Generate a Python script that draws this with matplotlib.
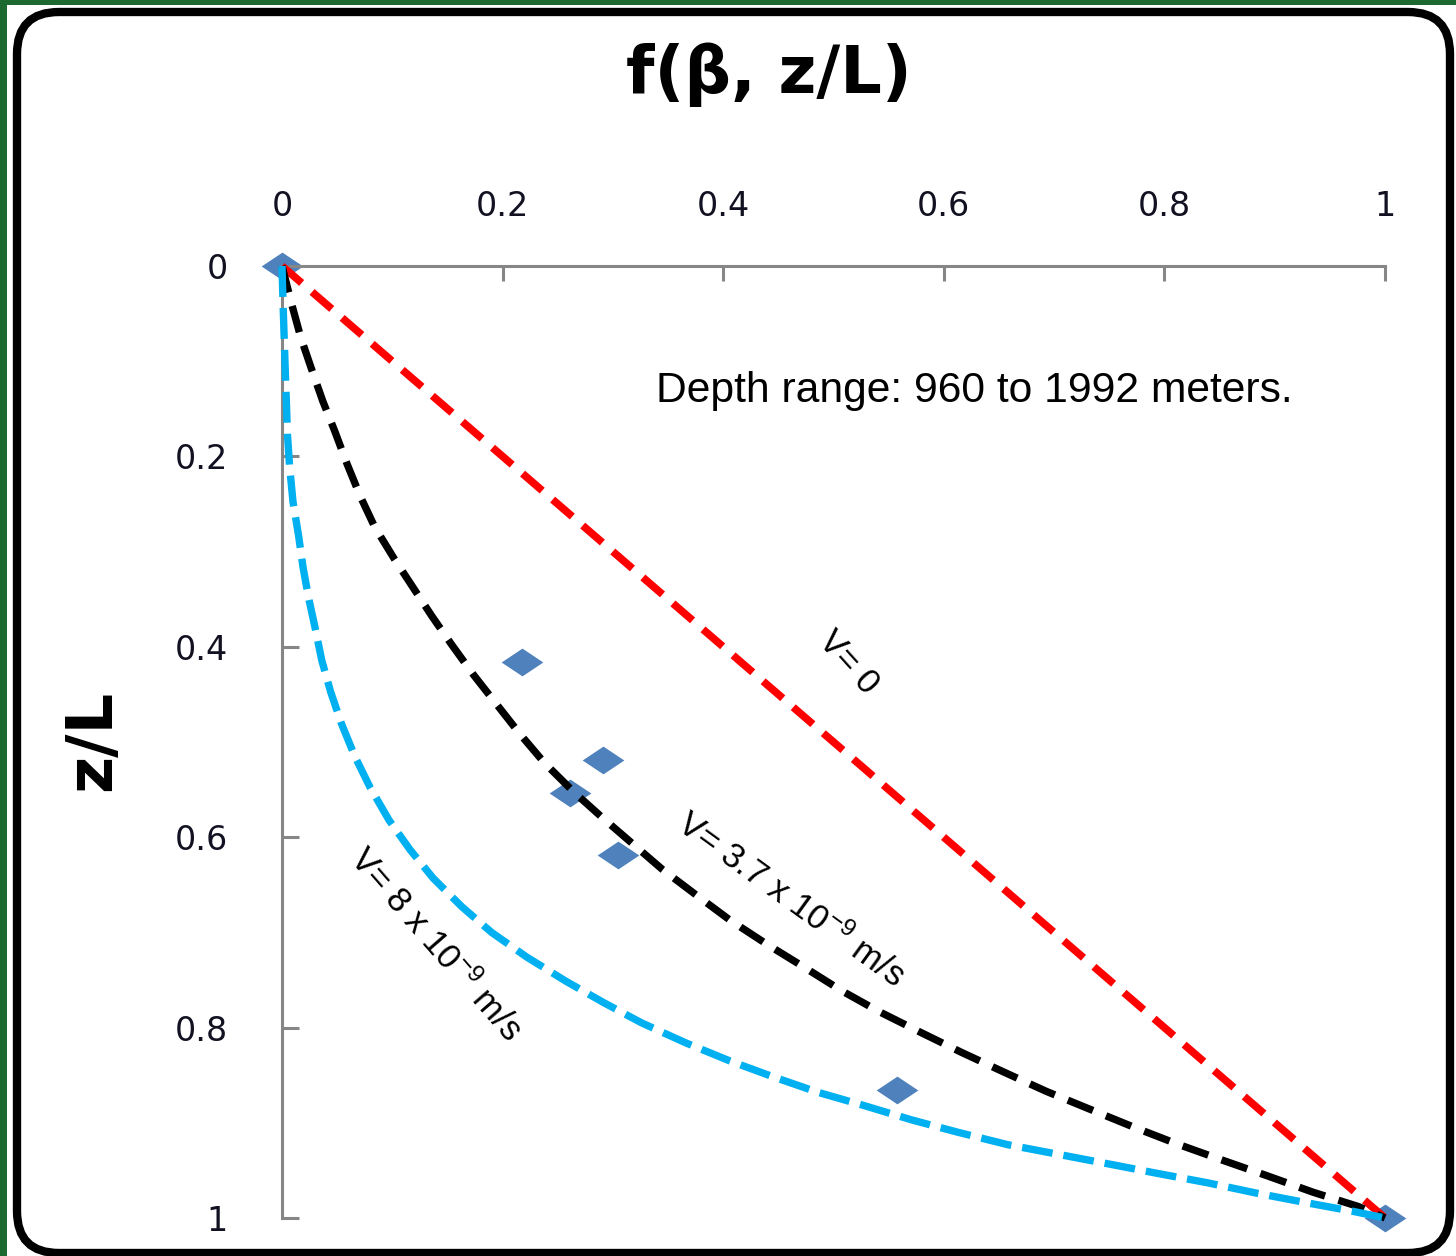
import matplotlib
matplotlib.use("Agg")
import matplotlib.pyplot as plt
from matplotlib.patches import Rectangle, FancyBboxPatch

# --- data ---
x_ticks = [0, 0.2, 0.4, 0.6, 0.8, 1]
y_ticks = [0, 0.2, 0.4, 0.6, 0.8, 1]
tick_labels = ["0", "0.2", "0.4", "0.6", "0.8", "1"]

# measured points (f, z/L)
meas_f = [0.0, 0.218, 0.291, 0.261, 0.305, 0.558, 1.0]
meas_z = [0.0, 0.416, 0.519, 0.554, 0.619, 0.866, 1.0]

# V = 0 (straight line)
v0_f = [0.0, 1.0]
v0_z = [0.0, 1.0]

# V = 3.7e-9 m/s curve
v37_f = [0.0, 0.009, 0.017, 0.027, 0.037, 0.048, 0.059, 0.071, 0.084, 0.102,
         0.119, 0.136, 0.154, 0.174, 0.195, 0.216, 0.238, 0.265, 0.291, 0.317,
         0.345, 0.377, 0.406, 0.439, 0.474, 0.507, 0.541, 0.579, 0.616, 0.655,
         0.693, 0.733, 0.771, 0.811, 0.852, 0.894, 0.935, 0.976, 1.0]
v37_z = [0.0, 0.041, 0.075, 0.109, 0.142, 0.174, 0.208, 0.242, 0.274, 0.308,
         0.338, 0.368, 0.398, 0.430, 0.461, 0.492, 0.522, 0.553, 0.580, 0.606,
         0.634, 0.662, 0.687, 0.712, 0.737, 0.761, 0.783, 0.805, 0.826, 0.847,
         0.867, 0.886, 0.904, 0.922, 0.939, 0.956, 0.973, 0.988, 1.0]

# V = 8e-9 m/s curve
v8_f = [0.0, 0.001, 0.002, 0.003, 0.004, 0.005, 0.007, 0.010, 0.015, 0.019,
        0.024, 0.030, 0.036, 0.044, 0.054, 0.066, 0.080, 0.097, 0.116, 0.137,
        0.163, 0.190, 0.222, 0.257, 0.292, 0.326, 0.366, 0.406, 0.446, 0.486,
        0.528, 0.571, 0.613, 0.658, 0.753, 0.793, 0.839, 0.884, 0.929, 0.971, 1.0]
v8_z = [0.0, 0.041, 0.076, 0.111, 0.144, 0.178, 0.212, 0.248, 0.283, 0.316,
        0.348, 0.380, 0.414, 0.447, 0.481, 0.515, 0.548, 0.582, 0.613, 0.643,
        0.673, 0.700, 0.726, 0.751, 0.774, 0.795, 0.816, 0.835, 0.852, 0.868,
        0.882, 0.897, 0.910, 0.923, 0.944, 0.953, 0.963, 0.974, 0.984, 0.993, 1.0]

plt.rcParams['mathtext.default'] = 'regular'

W, H = 1456, 1256
fig = plt.figure(figsize=(W / 100, H / 100), dpi=100)
fig.patch.set_facecolor('white')

# green frame strips (top and left edges)
fig.add_artist(Rectangle((0, 1 - 5 / H), 1, 5 / H, transform=fig.transFigure,
                         facecolor='#1d6a31', edgecolor='none', zorder=-3))
fig.add_artist(Rectangle((0, 0), 7 / W, 1, transform=fig.transFigure,
                         facecolor='#1d6a31', edgecolor='none', zorder=-3))

# rounded black box
box = FancyBboxPatch((0.17, 0.03), 14.50 - 0.17, 12.44 - 0.03,
                     boxstyle="round,pad=0,rounding_size=0.42",
                     transform=fig.dpi_scale_trans, facecolor='white',
                     edgecolor='black', linewidth=6, zorder=-2)
fig.add_artist(box)

ax = fig.add_axes([282 / W, 1 - 1218 / H, (1385 - 282) / W, (1218 - 266) / H])
ax.set_facecolor('none')

ax.plot(meas_f, meas_z, linestyle='none',
        marker=[(-1.5, 0), (0, 1), (1.5, 0), (0, -1)], markersize=30,
        color='#4f81bd', markeredgewidth=0, clip_on=False, zorder=2)

ax.plot(v0_f, v0_z, color='#ff0000', lw=5.5, linestyle=(0, (3.4, 1.8)),
        clip_on=False, zorder=3)
ax.plot(v37_f, v37_z, color='black', lw=5.3, linestyle=(0, (3.7, 1.9)),
        clip_on=False, zorder=3)
ax.plot(v8_f, v8_z, color='#00b0f0', lw=5.3, linestyle=(0, (4.2, 1.5)),
        clip_on=False, zorder=3)

ax.set_xlim(0, 1)
ax.set_ylim(1, 0)
ax.xaxis.tick_top()
ax.set_xticks(x_ticks)
ax.set_xticklabels(tick_labels)
ax.set_yticks(y_ticks)
ax.set_yticklabels(tick_labels)

for s in ['right', 'bottom']:
    ax.spines[s].set_visible(False)
for s in ['top', 'left']:
    ax.spines[s].set_color('#868686')
    ax.spines[s].set_linewidth(2.2)

ax.tick_params(axis='x', direction='in', length=11, width=2.2, color='#868686',
               pad=31, labelsize=24, labelcolor='#111122')
ax.tick_params(axis='y', direction='in', length=12, width=2.2, color='#868686',
               pad=39, labelsize=24, labelcolor='#111122')

fig.text(769 / W, 1 - 75 / H, "f(β, z/L)", ha='center', va='center',
         fontsize=47, fontweight='bold', color='black')
fig.text(92 / W, 1 - 740 / H, "z/L", ha='center', va='center', rotation=90,
         fontsize=46, fontweight='bold', color='black')

fig.text(656 / W, 1 - 391 / H, "Depth range: 960 to 1992 meters.",
         ha='left', va='center', fontsize=30.7, family='Liberation Sans')

ax.text(0.513, 0.417, "V= 0", rotation=-48, ha='center', va='center',
        fontsize=25, family='Liberation Sans', rotation_mode='anchor')
ax.text(0.4606, 0.666, r"V= 3.7 x 10$^{-9}$ m/s", rotation=-36, ha='center',
        va='center', fontsize=25, family='Liberation Sans', rotation_mode='anchor')
ax.text(0.1387, 0.713, r"V= 8 x 10$^{-9}$ m/s", rotation=-49, ha='center',
        va='center', fontsize=25, family='Liberation Sans', rotation_mode='anchor')

fig.savefig("out.png", dpi=100, facecolor=fig.get_facecolor())
